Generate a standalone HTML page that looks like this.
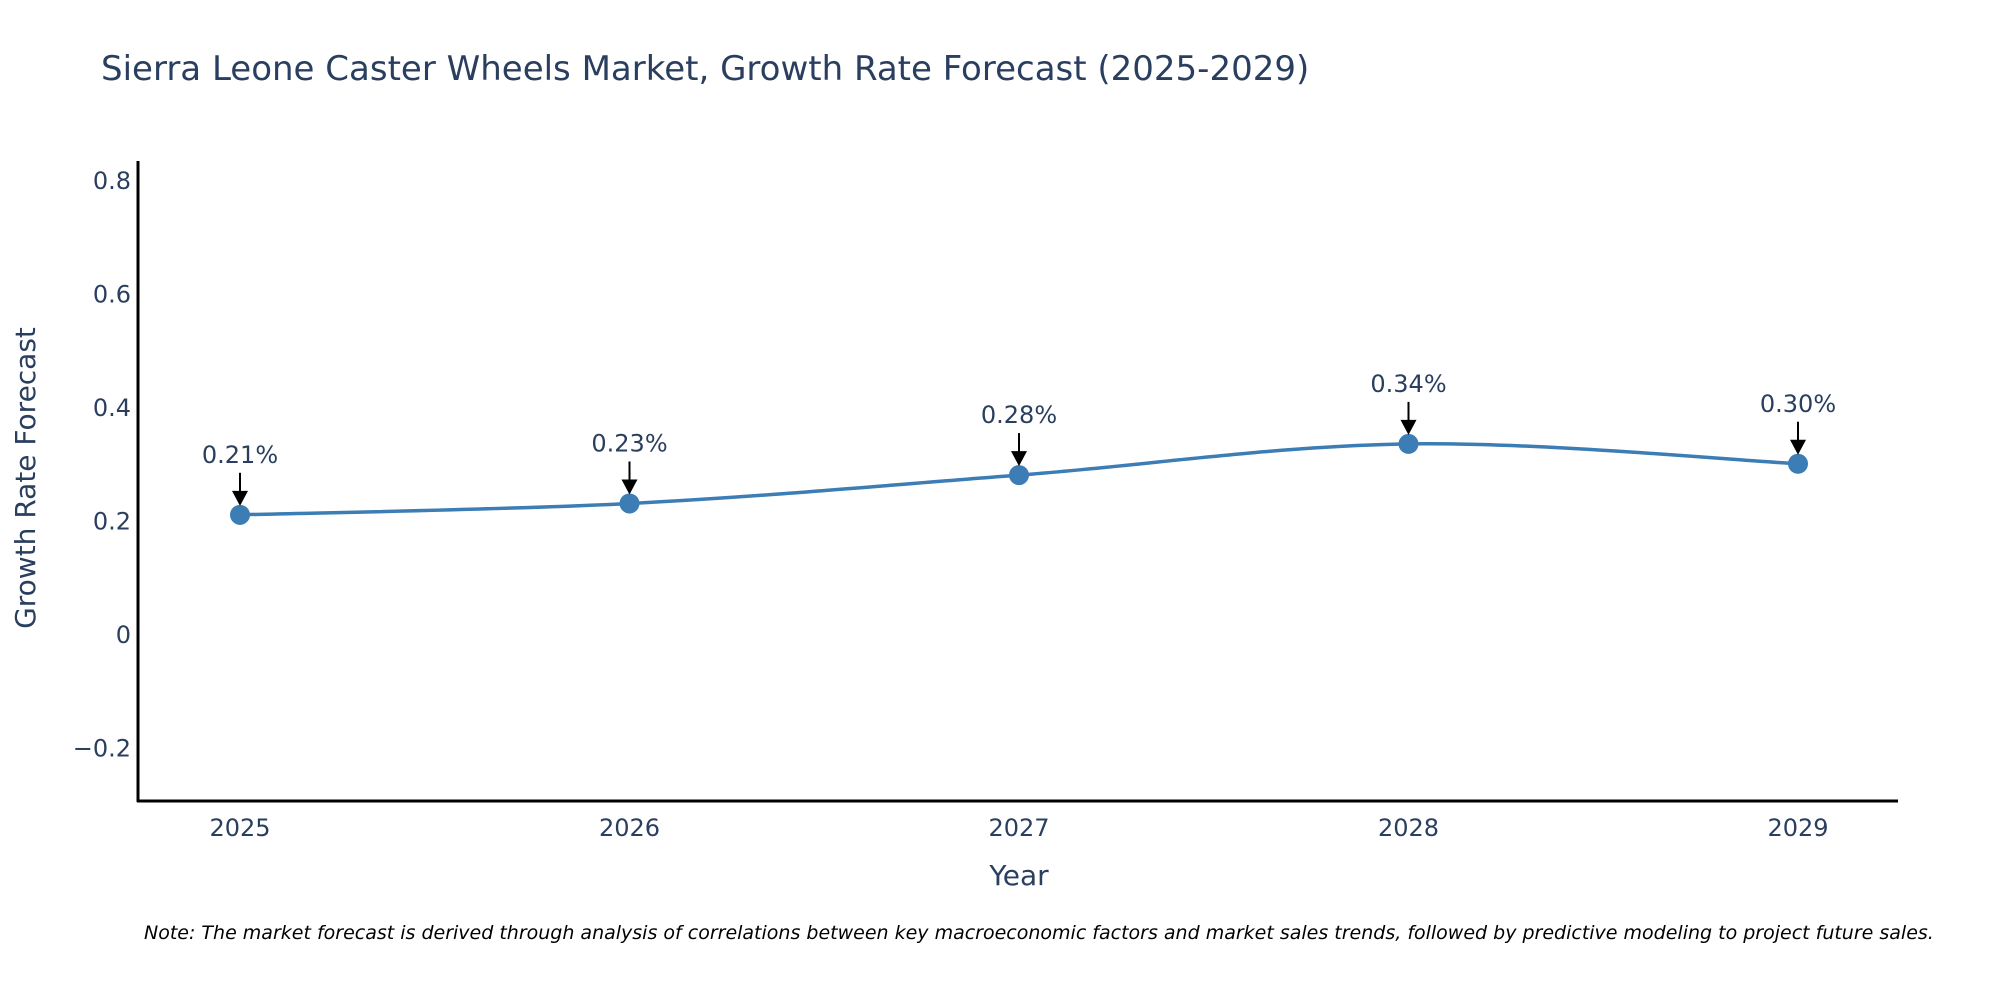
<!DOCTYPE html>
<html><head><meta charset="utf-8"><style>
body{margin:0;background:#fff;}
svg{display:block;font-family:"DejaVu Sans","Liberation Sans",sans-serif;}
</style></head><body>
<svg id="chart" width="2000" height="1000" viewBox="0 0 2000 1000">
<text x="101" y="80" font-size="34" fill="#2a3f5f">Sierra Leone Caster Wheels Market, Growth Rate Forecast (2025-2029)</text>
<g id="yticks"></g>
<g id="xticks"></g>
<line x1="138" y1="161" x2="138" y2="802" stroke="#000" stroke-width="3"/>
<line x1="137" y1="801" x2="1898" y2="801" stroke="#000" stroke-width="3"/>
<text x="0" y="0" font-size="28" fill="#2a3f5f" text-anchor="middle" transform="translate(35,478) rotate(-90)">Growth Rate Forecast</text>
<text x="1019" y="885" font-size="28" fill="#2a3f5f" text-anchor="middle">Year</text>
<g id="series"></g>
<text x="144" y="939" font-size="19" font-style="italic" fill="#000">Note: The market forecast is derived through analysis of correlations between key macroeconomic factors and market sales trends, followed by predictive modeling to project future sales.</text>
</svg>
<script>
const years = [2025, 2026, 2027, 2028, 2029];
const values = [0.21, 0.23, 0.28, 0.335, 0.30];
const labels = ["0.21%", "0.23%", "0.28%", "0.34%", "0.30%"];
const yTicks = [-0.2, 0, 0.2, 0.4, 0.6, 0.8];
const yTickLabels = ["\u22120.2", "0", "0.2", "0.4", "0.6", "0.8"];

const NS = "http://www.w3.org/2000/svg";
function xS(yr){ return 240 + (yr - 2025) * 389.5; }
function yS(v){ return 634 - v * 567.5; }
function mk(tag, attrs, parent){ const e=document.createElementNS(NS,tag); for(const k in attrs) e.setAttribute(k,attrs[k]); parent.appendChild(e); return e; }

const yg=document.getElementById('yticks');
yTicks.forEach((t,i)=>{
  const e=mk('text',{x:131,y:yS(t)+9,'font-size':24,fill:'#2a3f5f','text-anchor':'end'},yg);
  
  
  e.textContent=yTickLabels[i];
});
const xg=document.getElementById('xticks');
years.forEach(yr=>{
  const e=mk('text',{x:xS(yr),y:836,'font-size':24,fill:'#2a3f5f','text-anchor':'middle'},xg);
  
  
  e.textContent=String(yr);
});

const sg=document.getElementById('series');
const pts=years.map((yr,i)=>[xS(yr),yS(values[i])]);
let d='M'+pts[0][0]+','+pts[0][1];
for(let i=0;i<pts.length-1;i++){
  const p0=pts[Math.max(0,i-1)],p1=pts[i],p2=pts[i+1],p3=pts[Math.min(pts.length-1,i+2)];
  const t=0.17;
  const c1=[p1[0]+(p2[0]-p0[0])*t,p1[1]+(p2[1]-p0[1])*t];
  const c2=[p2[0]-(p3[0]-p1[0])*t,p2[1]-(p3[1]-p1[1])*t];
  d+=' C'+c1[0]+','+c1[1]+' '+c2[0]+','+c2[1]+' '+p2[0]+','+p2[1];
}
const line=mk('path',{d:d,fill:'none',stroke:'#3b7db4','stroke-width':3.5},sg);


pts.forEach((p,i)=>{
  const c=mk('circle',{cx:p[0],cy:p[1],r:10,fill:'#3b7db4'},sg);
  
  
  const a=mk('line',{x1:p[0],y1:p[1]-42,x2:p[0],y2:p[1]-22,stroke:'#000','stroke-width':2},sg);
  
  
  const h=mk('polygon',{points:(p[0]-8)+','+(p[1]-24)+' '+(p[0]+8)+','+(p[1]-24)+' '+p[0]+','+(p[1]-9),fill:'#000'},sg);
  
  
  const t=mk('text',{x:p[0],y:p[1]-52,'font-size':24,fill:'#2a3f5f','text-anchor':'middle'},sg);
  
  
  t.textContent=labels[i];
});
</script>
</body></html>
